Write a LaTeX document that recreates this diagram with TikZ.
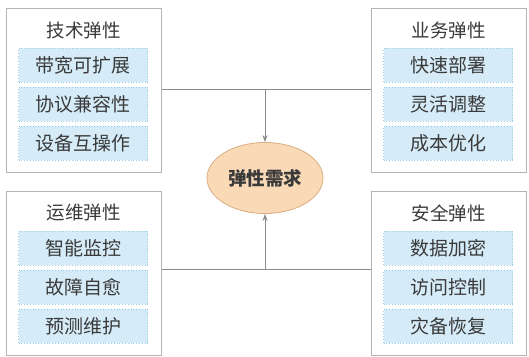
\documentclass[tikz,border=0pt]{standalone}
\usepackage{fontspec}
\setmainfont{Noto Sans CJK SC}
\usetikzlibrary{arrows.meta,shapes.geometric}
\definecolor{boxline}{HTML}{B4B4B4}
\definecolor{itemfill}{HTML}{D5EBF8}
\definecolor{itemline}{HTML}{9CCDE8}
\definecolor{ellfill}{HTML}{FAD9B6}
\definecolor{ellline}{HTML}{D9AE80}
\definecolor{txt}{HTML}{3A3A3A}
\definecolor{conn}{HTML}{8A8A8A}
\tikzset{
  outerbox/.style={draw=boxline, line width=0.8pt, fill=white, minimum width=155pt, minimum height=164pt, anchor=north west, inner sep=0pt},
  titletext/.style={text=txt, font=\fontsize{18.5}{22}\selectfont},
  itembox/.style={draw=itemline, dotted, line width=0.8pt, fill=itemfill, minimum width=129pt, minimum height=34pt, inner sep=0pt, text=txt, font=\fontsize{19}{22}\selectfont},
  ellnode/.style={ellipse, draw=ellline, line width=0.8pt, fill=ellfill, minimum width=116pt, minimum height=71pt, inner sep=0pt, text=txt, font=\fontsize{18.5}{22}\selectfont\bfseries},
  connline/.style={draw=conn, line width=0.8pt},
  connarrow/.style={draw=conn, line width=0.8pt, -{Stealth[length=7pt,width=5pt]}}
}
\begin{document}
\begin{tikzpicture}[x=1pt,y=-1pt]
\useasboundingbox (0,0) rectangle (529,356);
% boxes
\node[outerbox] (tl) at (6,8) {};
\node[outerbox] (tr) at (371,8) {};
\node[outerbox] (bl) at (6,191) {};
\node[outerbox] (br) at (371,191) {};
% titles
\node[titletext] (tlt) at (83.5,30) {技术弹性};
\node[titletext] (trt) at (448.5,30) {业务弹性};
\node[titletext] (blt) at (83.5,213) {运维弹性};
\node[titletext] (brt) at (448.5,213) {安全弹性};
% items
\node[itembox] (tl1) at (83,65) {带宽可扩展};
\node[itembox] (tl2) at (83,104) {协议兼容性};
\node[itembox] (tl3) at (83,143) {设备互操作};
\node[itembox] (tr1) at (448,65) {快速部署};
\node[itembox] (tr2) at (448,104) {灵活调整};
\node[itembox] (tr3) at (448,143) {成本优化};
\node[itembox] (bl1) at (83,248) {智能监控};
\node[itembox] (bl2) at (83,287) {故障自愈};
\node[itembox] (bl3) at (83,326) {预测维护};
\node[itembox] (br1) at (448,248) {数据加密};
\node[itembox] (br2) at (448,287) {访问控制};
\node[itembox] (br3) at (448,326) {灾备恢复};
% center
\node[ellnode] (c) at (265,178) {弹性需求};
% connectors
\coordinate (jt) at (265,89);
\coordinate (jb) at (265,269);
\draw[connline] (tl.east |- jt) -- (jt);
\draw[connline] (tr.west |- jt) -- (jt);
\draw[connarrow] (jt) -- (c.north);
\draw[connline] (bl.east |- jb) -- (jb);
\draw[connline] (br.west |- jb) -- (jb);
\draw[connarrow] (jb) -- (c.south);
\end{tikzpicture}
\end{document}
